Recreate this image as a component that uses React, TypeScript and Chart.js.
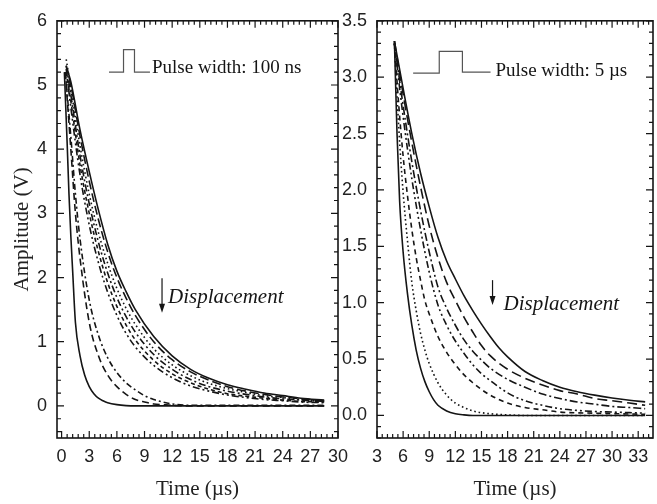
import React, { useEffect, useRef } from "react";
import { Chart, registerables } from "chart.js";
Chart.register(...registerables);

// ---------------- tick labels ----------------
const leftXTicks = [0, 3, 6, 9, 12, 15, 18, 21, 24, 27, 30];
const leftYTicks = [0, 1, 2, 3, 4, 5, 6];
const rightXTicks = [3, 6, 9, 12, 15, 18, 21, 24, 27, 30, 33];
const rightYTicks = [0, 0.5, 1, 1.5, 2, 2.5, 3, 3.5];

// ---------------- left panel: pulse width 100 ns ----------------
const leftTimeA = [0.6, 1, 2, 3, 4, 5, 6, 7, 8, 10, 12, 14, 16, 18, 20, 22, 24, 26, 28.5];
const leftTimeMid = [0.5, 1, 2, 3, 4, 5, 6, 7, 8, 10, 12, 14, 16, 18, 20, 22, 24, 26, 28.5];
const leftA = [5.25, 5.05, 4.3, 3.65, 3.05, 2.52, 2.1, 1.78, 1.5, 1.08, 0.78, 0.57, 0.43, 0.33, 0.26, 0.2, 0.16, 0.12, 0.09];
const leftB = [5.3, 5.0, 4.2, 3.5, 2.9, 2.4, 2.0, 1.68, 1.41, 1.0, 0.72, 0.53, 0.4, 0.3, 0.23, 0.18, 0.14, 0.11, 0.08];
const leftC = [5.4, 4.95, 4.05, 3.3, 2.7, 2.22, 1.83, 1.52, 1.27, 0.89, 0.64, 0.47, 0.35, 0.27, 0.21, 0.16, 0.13, 0.1, 0.08];
const leftD = [5.3, 4.85, 3.9, 3.15, 2.55, 2.07, 1.69, 1.39, 1.15, 0.8, 0.57, 0.41, 0.3, 0.23, 0.18, 0.14, 0.11, 0.09, 0.07];
const leftE = [5.2, 4.75, 3.75, 3.0, 2.4, 1.92, 1.55, 1.26, 1.03, 0.71, 0.5, 0.36, 0.26, 0.19, 0.15, 0.12, 0.09, 0.07, 0.06];
const leftF = [5.25, 4.65, 3.6, 2.82, 2.23, 1.77, 1.41, 1.13, 0.92, 0.63, 0.44, 0.31, 0.23, 0.17, 0.13, 0.1, 0.08, 0.06, 0.05];
const leftTimeFast = [0.4, 1, 1.5, 2, 3, 4, 5, 6, 7, 8, 9, 10, 11, 12, 14, 16, 20, 24, 28.5];
const leftG = [5.2, 4.2, 3.3, 2.6, 1.65, 1.1, 0.75, 0.52, 0.36, 0.25, 0.16, 0.1, 0.06, 0.03, 0.01, 0.01, 0.01, 0.01, 0.01];
const leftH = [5.2, 4.0, 3.0, 2.3, 1.3, 0.78, 0.48, 0.3, 0.18, 0.1, 0.06, 0.03, 0.02, 0.01, 0, 0, 0, 0, 0];
const leftTimeI = [0.3, 0.6, 0.8, 1.0, 1.2, 1.5, 2, 2.5, 3, 3.5, 4, 4.5, 5, 6, 7, 8, 10, 15, 20, 28.5];
const leftI = [5.2, 4.1, 3.3, 2.65, 2.1, 1.3, 0.78, 0.48, 0.3, 0.19, 0.12, 0.08, 0.05, 0.02, 0.005, 0, 0, 0, 0, 0];
const leftPulseX = [5.14, 6.72, 6.72, 7.91, 7.91, 9.59];
const leftPulseY = [5.2, 5.2, 5.55, 5.55, 5.2, 5.2];

// ---------------- right panel: pulse width 5 us ----------------
const rightTime1 = [5, 6, 7, 8, 9, 10, 11, 12, 13, 14, 15, 16, 17, 18, 20, 22, 24, 26, 28, 30, 32, 33.8];
const right1 = [3.32, 2.9, 2.5, 2.15, 1.85, 1.58, 1.37, 1.21, 1.06, 0.93, 0.81, 0.7, 0.6, 0.52, 0.39, 0.31, 0.25, 0.21, 0.18, 0.155, 0.135, 0.12];
const rightTime = [5, 6, 7, 8, 9, 10, 11, 12, 13, 14, 15, 16, 18, 20, 22, 24, 26, 28, 30, 32, 33.8];
const right2 = [3.32, 2.85, 2.42, 2.03, 1.68, 1.4, 1.18, 1.02, 0.87, 0.74, 0.62, 0.53, 0.41, 0.33, 0.27, 0.22, 0.19, 0.15, 0.13, 0.11, 0.09];
const right3 = [3.3, 2.75, 2.25, 1.82, 1.45, 1.14, 0.95, 0.8, 0.67, 0.57, 0.49, 0.42, 0.32, 0.25, 0.19, 0.15, 0.12, 0.1, 0.08, 0.07, 0.06];
const right4 = [3.3, 2.65, 2.1, 1.65, 1.27, 0.98, 0.8, 0.66, 0.55, 0.45, 0.37, 0.31, 0.2, 0.13, 0.09, 0.06, 0.045, 0.035, 0.03, 0.025, 0.02];
const rightTime5 = [5, 5.5, 6, 6.5, 7, 7.5, 8, 8.5, 9, 10, 11, 12, 13, 14, 15, 16, 18, 20, 22, 24, 28, 33.8];
const right5 = [3.3, 2.75, 2.3, 1.95, 1.65, 1.4, 1.2, 1.02, 0.9, 0.7, 0.56, 0.45, 0.36, 0.29, 0.23, 0.18, 0.11, 0.07, 0.05, 0.03, 0.02, 0.01];
const rightTime6 = [5, 5.5, 6, 6.5, 7, 7.5, 8, 8.5, 9, 10, 11, 12, 13, 14, 16, 18, 20, 25, 33.8];
const right6 = [3.3, 2.55, 1.98, 1.55, 1.18, 0.93, 0.73, 0.58, 0.46, 0.29, 0.18, 0.11, 0.07, 0.04, 0.015, 0.005, 0, 0, 0];
const rightTime7 = [5, 5.3, 5.6, 6, 6.5, 7, 7.5, 8, 8.5, 9, 9.5, 10, 11, 12, 13, 14, 20, 33.8];
const right7 = [3.32, 2.5, 1.9, 1.45, 1.08, 0.8, 0.58, 0.42, 0.3, 0.21, 0.14, 0.09, 0.04, 0.015, 0.005, 0, 0, 0];
const rightPulseX = [7.15, 10.15, 10.15, 12.81, 12.81, 16.04];
const rightPulseY = [3.036, 3.036, 3.229, 3.229, 3.045, 3.045];

// ---------------- styles ----------------
const SERIF = '"Liberation Serif", "Times New Roman", serif';
const SANS = '"Liberation Sans", Arial, sans-serif';
const INK = "#151515";

const DASH_SOLID: number[] = [];
const DASH_LONG = [9, 4];
const DASH_DOT = [1.6, 2.8];
const DASH_DASHDOT = [7, 3, 2, 3];
const DASH_SHORT = [4, 3];
const DASH_DASHDOTDOT = [7, 3, 2, 3, 2, 3];

const leftSeries = [
  { t: leftTimeA, v: leftA, dash: DASH_SOLID },
  { t: leftTimeMid, v: leftB, dash: DASH_LONG },
  { t: leftTimeMid, v: leftC, dash: DASH_DOT },
  { t: leftTimeMid, v: leftD, dash: DASH_DASHDOT },
  { t: leftTimeMid, v: leftE, dash: DASH_SHORT },
  { t: leftTimeMid, v: leftF, dash: DASH_DASHDOTDOT },
  { t: leftTimeFast, v: leftG, dash: [6, 3, 2, 3] },
  { t: leftTimeFast, v: leftH, dash: [7, 4] },
  { t: leftTimeI, v: leftI, dash: DASH_SOLID },
];

const rightSeries = [
  { t: rightTime1, v: right1, dash: DASH_SOLID },
  { t: rightTime, v: right2, dash: [10, 5] },
  { t: rightTime, v: right3, dash: [8, 3, 2, 3] },
  { t: rightTime, v: right4, dash: DASH_DASHDOTDOT },
  { t: rightTime5, v: right5, dash: [5, 4] },
  { t: rightTime6, v: right6, dash: DASH_DOT },
  { t: rightTime7, v: right7, dash: DASH_SOLID },
];

// ---------------- plugins ----------------
const framePlugin = {
  id: "frameTicks",
  afterDatasetsDraw(chart: any, _args: any, o: any) {
    const { ctx, chartArea } = chart;
    const { left, right, top, bottom } = chartArea;
    const xs = chart.scales.x;
    const ys = chart.scales.y;
    ctx.save();
    ctx.strokeStyle = INK;
    ctx.lineWidth = 1.2;
    ctx.beginPath();
    const seg = (x1: number, y1: number, x2: number, y2: number) => {
      ctx.moveTo(x1, y1);
      ctx.lineTo(x2, y2);
    };
    const minorLen = 4;
    const majorLen = 7;
    for (let k = Math.ceil(xs.min / o.xMinor - 1e-6); k * o.xMinor <= xs.max + 1e-6; k++) {
      const p = xs.getPixelForValue(k * o.xMinor);
      seg(p, bottom, p, bottom - minorLen);
      seg(p, top, p, top + minorLen);
    }
    for (let k = Math.ceil(ys.min / o.yMinor - 1e-6); k * o.yMinor <= ys.max + 1e-6; k++) {
      const p = ys.getPixelForValue(k * o.yMinor);
      seg(left, p, left + minorLen, p);
      seg(right, p, right - minorLen, p);
    }
    for (const v of o.xMajor) {
      const p = xs.getPixelForValue(v);
      seg(p, bottom, p, bottom - majorLen);
      seg(p, top, p, top + majorLen);
    }
    for (const v of o.yMajor) {
      const p = ys.getPixelForValue(v);
      seg(left, p, left + majorLen, p);
      seg(right, p, right - majorLen, p);
    }
    ctx.stroke();
    ctx.lineWidth = 1.6;
    ctx.strokeRect(left, top, right - left, bottom - top);
    ctx.restore();
  },
};

const notesPlugin = {
  id: "notes",
  afterDatasetsDraw(chart: any, _args: any, o: any) {
    const { ctx } = chart;
    const xs = chart.scales.x;
    const ys = chart.scales.y;
    ctx.save();
    ctx.fillStyle = INK;
    ctx.textAlign = "left";
    for (const t of o.texts || []) {
      ctx.font = t.font;
      ctx.textBaseline = "alphabetic";
      ctx.fillText(t.text, xs.getPixelForValue(t.x), ys.getPixelForValue(t.y));
    }
    for (const a of o.arrows || []) {
      const px = xs.getPixelForValue(a.x);
      const p1 = ys.getPixelForValue(a.y1);
      const p2 = ys.getPixelForValue(a.y2);
      ctx.strokeStyle = INK;
      ctx.lineWidth = 1.2;
      ctx.beginPath();
      ctx.moveTo(px, p1);
      ctx.lineTo(px, p2 - 6);
      ctx.stroke();
      ctx.beginPath();
      ctx.moveTo(px - 3, p2 - 9);
      ctx.lineTo(px + 3, p2 - 9);
      ctx.lineTo(px, p2);
      ctx.closePath();
      ctx.fill();
    }
    ctx.restore();
  },
};

function buildDatasets(series: any[], pulseX: number[], pulseY: number[]) {
  const ds: any[] = series.map((s) => ({
    data: s.t.map((x: number, i: number) => ({ x, y: s.v[i] })),
    showLine: true,
    borderColor: INK,
    borderWidth: 1.6,
    borderDash: s.dash,
    pointRadius: 0,
    cubicInterpolationMode: "monotone",
    fill: false,
  }));
  ds.push({
    data: pulseX.map((x, i) => ({ x, y: pulseY[i] })),
    showLine: true,
    borderColor: "#555",
    borderWidth: 1.2,
    pointRadius: 0,
    tension: 0,
    fill: false,
  });
  return ds;
}

function buildOptions(p: any) {
  return {
    responsive: false,
    animation: false,
    devicePixelRatio: 1,
    events: [],
    layout: { padding: p.padding },
    plugins: {
      legend: { display: false },
      tooltip: { enabled: false },
      frameTicks: { xMajor: p.xTicks, yMajor: p.yTicks, xMinor: p.xMinor, yMinor: p.yMinor },
      notes: { texts: p.texts, arrows: p.arrows },
    },
    scales: {
      x: {
        type: "linear",
        min: p.xMin,
        max: p.xMax,
        afterBuildTicks: (s: any) => {
          s.ticks = p.xTicks.map((v: number) => ({ value: v }));
        },
        afterFit: (s: any) => {
          s.height = p.xHeight;
        },
        grid: { display: false, drawTicks: false },
        border: { display: false },
        ticks: {
          autoSkip: false,
          maxRotation: 0,
          padding: 8,
          color: "#222",
          font: { family: SANS, size: 18 },
        },
        title: {
          display: true,
          text: "Time (\u00b5s)",
          color: "#222",
          font: { family: SERIF, size: 21, lineHeight: 1.2 },
          padding: { top: 0, bottom: 1.5 },
        },
      },
      y: {
        type: "linear",
        min: p.yMin,
        max: p.yMax,
        afterBuildTicks: (s: any) => {
          s.ticks = p.yTicks.map((v: number) => ({ value: v }));
        },
        afterFit: (s: any) => {
          s.width = p.yWidth;
        },
        grid: { display: false, drawTicks: false },
        border: { display: false },
        ticks: {
          padding: 10,
          color: "#222",
          font: { family: SANS, size: 18 },
          callback: (v: any) => p.fmt(Number(v)),
        },
        title: {
          display: !!p.yTitle,
          text: p.yTitle || "",
          color: "#222",
          font: { family: SERIF, size: 21, lineHeight: 1.2 },
          padding: { top: 9.4, bottom: 0 },
        },
      },
    },
  };
}

export default function App() {
  const leftRef = useRef<HTMLCanvasElement | null>(null);
  const rightRef = useRef<HTMLCanvasElement | null>(null);

  useEffect(() => {
    const left = new Chart(leftRef.current as HTMLCanvasElement, {
      type: "scatter",
      data: { datasets: buildDatasets(leftSeries, leftPulseX, leftPulseY) },
      options: buildOptions({
        padding: { left: 0, right: 22, top: 17, bottom: 0 },
        xMin: -0.5,
        xMax: 30,
        yMin: -0.5,
        yMax: 6,
        xTicks: leftXTicks,
        yTicks: leftYTicks,
        xMinor: 0.6,
        yMinor: 0.2,
        xHeight: 66,
        yWidth: 57,
        yTitle: "Amplitude (V)",
        fmt: (v: number) => String(v),
        texts: [
          { text: "Pulse width: 100 ns", x: 9.81, y: 5.18, font: `19px ${SERIF}` },
          { text: "Displacement", x: 11.55, y: 1.6, font: `italic 21px ${SERIF}` },
        ],
        arrows: [{ x: 10.9, y1: 1.99, y2: 1.45 }],
      }) as any,
      plugins: [framePlugin, notesPlugin],
    } as any);

    const right = new Chart(rightRef.current as HTMLCanvasElement, {
      type: "scatter",
      data: { datasets: buildDatasets(rightSeries, rightPulseX, rightPulseY) },
      options: buildOptions({
        padding: { left: 0, right: 4, top: 17, bottom: 0 },
        xMin: 3,
        xMax: 34.7,
        yMin: -0.2,
        yMax: 3.5,
        xTicks: rightXTicks,
        yTicks: rightYTicks,
        xMinor: 0.6,
        yMinor: 0.1,
        xHeight: 66,
        yWidth: 77,
        yTitle: "",
        fmt: (v: number) => v.toFixed(1),
        texts: [
          { text: "Pulse width: 5 \u00b5s", x: 16.6, y: 3.01, font: `19px ${SERIF}` },
          { text: "Displacement", x: 17.54, y: 0.937, font: `italic 21px ${SERIF}` },
        ],
        arrows: [{ x: 16.27, y1: 1.2, y2: 0.98 }],
      }) as any,
      plugins: [framePlugin, notesPlugin],
    } as any);

    return () => {
      left.destroy();
      right.destroy();
    };
  }, []);

  return (
    <div style={{ position: "absolute", left: 0, top: 0, width: 657, height: 504, background: "#fff", overflow: "hidden" }}>
      <canvas ref={leftRef} width={360} height={504} style={{ position: "absolute", left: 0, top: 0, width: 360, height: 504 }} />
      <canvas ref={rightRef} width={357} height={504} style={{ position: "absolute", left: 300, top: 0, width: 357, height: 504 }} />
    </div>
  );
}
